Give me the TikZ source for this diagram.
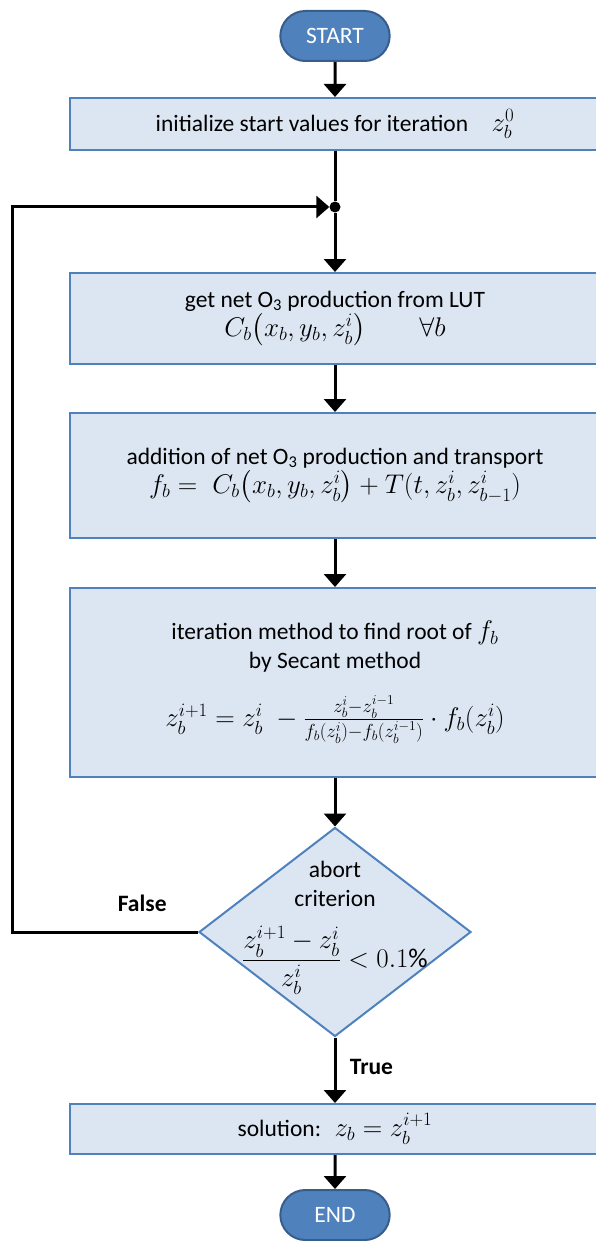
\RequirePackage{fix-cm}
\documentclass[tikz,border=0pt]{standalone}
\usepackage{amsmath, amssymb}
\usepackage{fontspec}
\setmainfont{Carlito}
\usetikzlibrary{arrows.meta,positioning,shapes.misc,shapes.geometric}
\definecolor{boxfill}{HTML}{DCE6F2}
\definecolor{boxline}{HTML}{4F81BD}
\definecolor{termfill}{HTML}{4F81BD}
\definecolor{termline}{HTML}{385D8A}
\newcommand{\mth}[1]{{\fontsize{27}{32}\selectfont$#1$}}

\begin{document}
\begin{tikzpicture}[x=1pt, y=-1pt,
    font=\fontsize{23.5}{29}\selectfont,
    terminal/.style={rounded rectangle, draw=termline, fill=termfill, line width=2pt,
        text=white, minimum width=116pt, minimum height=50pt},
    process/.style={rectangle, draw=boxline, fill=boxfill, line width=2pt,
        minimum width=530pt, align=center},
    decision/.style={diamond, draw=boxline, fill=boxfill, line width=2pt,
        minimum width=272pt, minimum height=209pt, inner sep=0pt},
    flow/.style={line width=3pt, -{Triangle[width=22pt,length=13pt]}},
    answer/.style={font=\fontsize{23.5}{29}\selectfont\bfseries}]

    \useasboundingbox (0,0) rectangle (595,1241);

    \node[terminal] (start) at (335,36) {START};
    \node[process, minimum height=52pt] (init) at (335,124)
        {initialize start values for iteration\quad \mth{z_b^0}};
    \node[circle, fill=black, inner sep=0pt, minimum size=11pt] (join) at (335,207) {};
    \node[process, minimum height=91pt] (lut) at (335,318.5)
        {get net O\textsubscript{3} production from LUT\\
         \mth{C_b\big(x_b,y_b,z_b^i\big)\qquad\forall b}};
    \node[process, minimum height=125pt] (add) at (335,475.5)
        {addition of net O\textsubscript{3} production and transport\\
         \mth{f_b=\;C_b\big(x_b,y_b,z_b^i\big)+T(t,z_b^i,z_{b-1}^i)}};
    \node[process, minimum height=189pt] (secant) at (335,682.5)
        {iteration method to find root of \mth{f_b}\\
         by Secant method\\[22pt]
         \mth{z_b^{i+1}=z_b^i\;-\tfrac{z_b^i-z_b^{i-1}}{f_b(z_b^i)-f_b(z_b^{i-1})}\cdot f_b(z_b^i)}};
    \node[decision] (abort) at (335,932) {};
    \node[align=center] (crit) at (335,928)
        {abort\\ criterion\\[18pt] \mth{\dfrac{z_b^{i+1}-z_b^i}{z_b^i}<0.1\%}};
    \node[process, minimum height=50pt] (sol) at (335,1129)
        {solution:\; \mth{z_b=z_b^{i+1}}};
    \node[terminal] (end) at (335,1215) {END};
    \coordinate (back) at (12,932);

    \draw[flow] (start) -- (init);
    \draw[line width=3pt] (init) -- (join);
    \draw[flow] (join) -- (lut);
    \draw[flow] (lut) -- (add);
    \draw[flow] (add) -- (secant);
    \draw[flow] (secant) -- (abort);
    \draw[flow] (abort) -- node[answer, right=10pt, pos=0.45] {True} (sol);
    \draw[flow] (abort.west) -- node[answer, above=16pt, pos=0.3] {False} (back) |- (join);
    \draw[flow] (sol) -- (end);
\end{tikzpicture}
\end{document}
